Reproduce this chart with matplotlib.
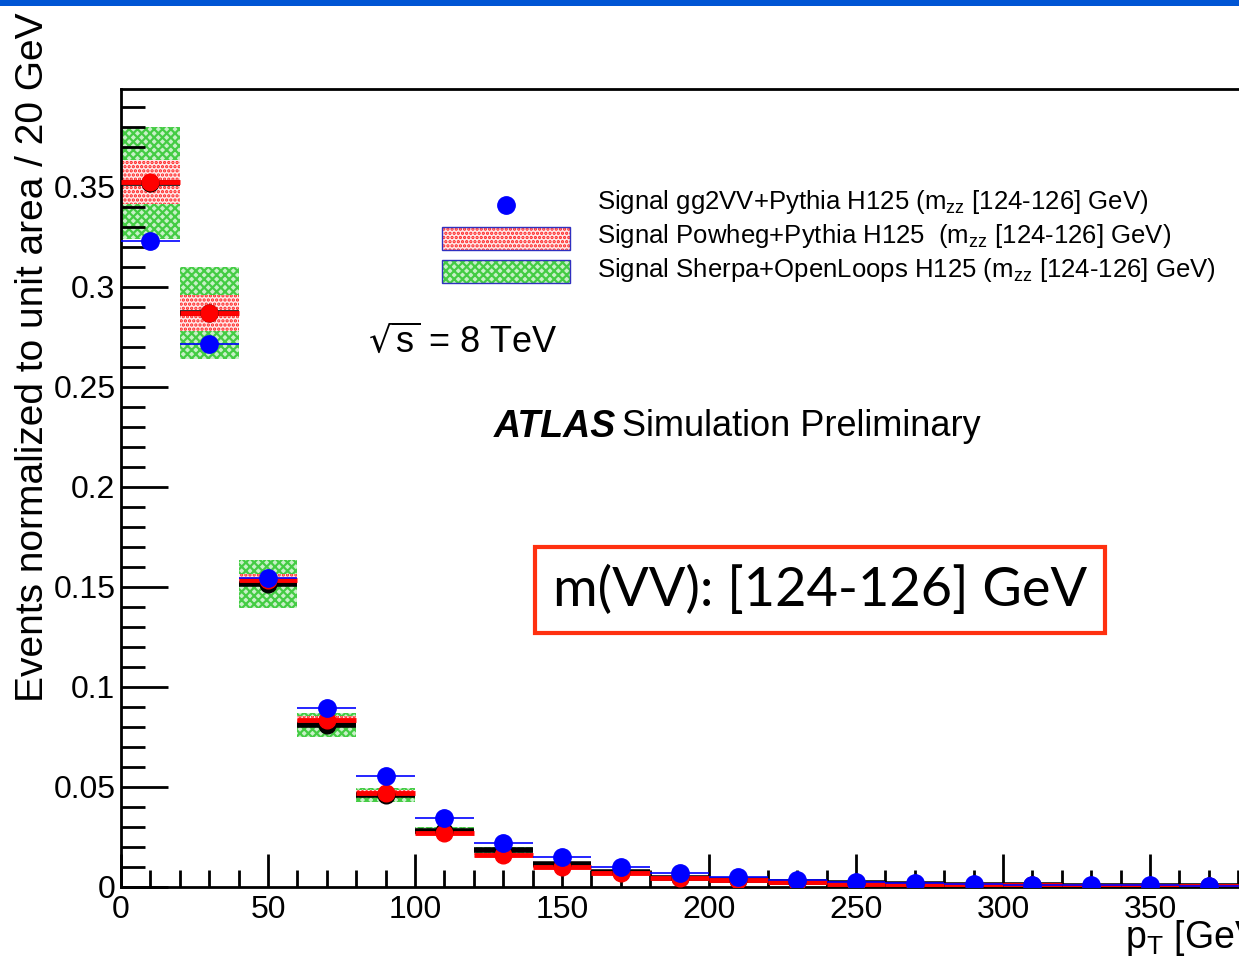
import numpy as np
import matplotlib.pyplot as plt
from matplotlib.patches import Rectangle
from matplotlib import font_manager

plt.rcParams['font.family'] = ['Liberation Sans', 'DejaVu Sans']
plt.rcParams['hatch.linewidth'] = 1.6

# pT bins of 20 GeV
edges = np.arange(0, 420, 20)
centers = (edges[:-1] + edges[1:]) / 2

# gg2VV + Pythia (blue points)
gg2vv = [0.323, 0.2715, 0.1545, 0.0895, 0.0555, 0.0345, 0.022, 0.015, 0.010, 0.007,
         0.005, 0.0035, 0.0025, 0.002, 0.0015, 0.0012, 0.001, 0.0008, 0.0006, 0.0005]

# Powheg + Pythia (red points, dotted band)
powheg = [0.3525, 0.287, 0.1535, 0.0835, 0.047, 0.027, 0.016, 0.010, 0.007, 0.0045,
          0.0035, 0.0025, 0.0017, 0.0012, 0.0010, 0.0008, 0.0006, 0.0005, 0.0004, 0.0003]
powheg_err = [0.011, 0.009, 0.003, 0.002, 0.0015, 0.001, 0.0008, 0.0006, 0.0005, 0.0004,
              0.0003, 0.0003, 0.0002, 0.0002, 0.0002, 0.0001, 0.0001, 0.0001, 0.0001, 0.0001]

# Sherpa + OpenLoops (black points, green band)
sherpa = [0.352, 0.287, 0.1515, 0.081, 0.046, 0.028, 0.0185, 0.0115, 0.0075, 0.0045,
          0.0035, 0.0025, 0.0018, 0.0013, 0.0010, 0.0008, 0.0006, 0.0005, 0.0004, 0.0003]
sherpa_err = [0.028, 0.023, 0.0118, 0.006, 0.0035, 0.002, 0.0015, 0.001, 0.0008, 0.0006,
              0.0005, 0.0004, 0.0003, 0.0003, 0.0002, 0.0002, 0.0002, 0.0001, 0.0001, 0.0001]

W, H = 1239, 964
fig = plt.figure(figsize=(W / 100, H / 100), dpi=100)
ax = fig.add_axes([121 / W, 1 - 887 / H, (1297 - 121) / W, (887 - 89) / H])

widths = np.diff(edges)
sherpa = np.array(sherpa); sherpa_err = np.array(sherpa_err)
powheg = np.array(powheg); powheg_err = np.array(powheg_err)

# uncertainty bands
ax.bar(centers, 2 * sherpa_err, bottom=sherpa - sherpa_err, width=widths,
       facecolor='#c8f0c8', edgecolor='#44cc44', hatch='xxxx', linewidth=0, zorder=1)
ax.bar(centers, 2 * powheg_err, bottom=powheg - powheg_err, width=widths,
       facecolor='#ffe8e8', edgecolor='#ff2020', hatch='....', linewidth=0, zorder=2)

# horizontal bin lines
ax.hlines(sherpa, edges[:-1], edges[1:], color='black', lw=4, zorder=3)
ax.hlines(powheg, edges[:-1], edges[1:], color='red', lw=3.5, zorder=4)
ax.hlines(gg2vv, edges[:-1], edges[1:], color='blue', lw=1.2, zorder=5)

# markers
ax.plot(centers, sherpa, 'o', color='black', ms=12, zorder=6)
ax.plot(centers, powheg, 'o', color='red', ms=12, zorder=7)
ax.plot(centers, gg2vv, 'o', color='blue', ms=12.5, zorder=8)

ax.set_xlim(0, 400)
ax.set_ylim(0, 0.399)
ax.set_xticks(np.arange(0, 401, 50))
ax.set_xticks(np.arange(0, 401, 10), minor=True)
ax.set_yticks(np.arange(0, 0.36, 0.05))
ax.set_yticks(np.arange(0, 0.40, 0.01), minor=True)
ax.set_yticklabels(['0', '0.05', '0.1', '0.15', '0.2', '0.25', '0.3', '0.35'])
ax.tick_params(axis='both', which='both', direction='in', labelsize=23, width=2)
ax.tick_params(axis='y', which='major', length=34, pad=4)
ax.tick_params(axis='y', which='minor', length=17)
ax.tick_params(axis='x', which='major', length=24, pad=6)
ax.tick_params(axis='x', which='minor', length=12)
for s in ax.spines.values():
    s.set_linewidth(2)

# x title sits at the right end of the axis
fig.text(1125 / W, 1 - 958 / H, 'p$_\\mathregular{T}$ [GeV]', fontsize=27,
         ha='left', va='bottom')

# condensed face for the y title if there is one
names = {f.name for f in font_manager.fontManager.ttflist}
if 'Liberation Sans Narrow' in names:
    ytitle_font, ytitle_size = 'Liberation Sans Narrow', 34
else:
    ytitle_font, ytitle_size = 'Liberation Sans', 28
fig.text(33 / W, 1 - 702 / H, 'Events normalized to unit area / 20 GeV',
         rotation=90, ha='center', va='bottom', fontsize=ytitle_size, family=ytitle_font)

# legend drawn by hand
fig.add_artist(plt.Line2D([506 / W], [1 - 205 / H], marker='o', color='blue', ms=12.5,
                          transform=fig.transFigure))
fig.add_artist(Rectangle((442 / W, 1 - 250 / H), 128 / W, 23 / H, transform=fig.transFigure,
                         facecolor='#ffe8e8', edgecolor='#ff2020', hatch='....', lw=0))
fig.add_artist(Rectangle((442 / W, 1 - 250 / H), 128 / W, 23 / H, transform=fig.transFigure,
                         facecolor='none', edgecolor='#3030c0', lw=1))
fig.add_artist(Rectangle((442 / W, 1 - 283 / H), 128 / W, 23 / H, transform=fig.transFigure,
                         facecolor='#c8f0c8', edgecolor='#44cc44', hatch='xxxx', lw=0))
fig.add_artist(Rectangle((442 / W, 1 - 283 / H), 128 / W, 23 / H, transform=fig.transFigure,
                         facecolor='none', edgecolor='#3030c0', lw=1))
leg_labels = ['Signal gg2VV+Pythia H125 (m$_{\\mathregular{zz}}$ [124-126] GeV)',
              'Signal Powheg+Pythia H125  (m$_{\\mathregular{zz}}$ [124-126] GeV)',
              'Signal Sherpa+OpenLoops H125 (m$_{\\mathregular{zz}}$ [124-126] GeV)']
for i, lab in enumerate(leg_labels):
    fig.text(597 / W, 1 - (202 + 34 * i) / H, lab, fontsize=18.5, va='center', ha='left')

fig.text(368 / W, 1 - 342 / H, '$\\sqrt{\\mathregular{s}}$ = 8 TeV', fontsize=26,
         va='center', ha='left')
fig.text(494 / W, 1 - 427 / H, 'ATLAS', fontsize=27, fontweight='bold', fontstyle='italic',
         va='center', ha='left')
fig.text(622 / W, 1 - 427 / H, 'Simulation Preliminary', fontsize=26, va='center', ha='left')

fig.text(820 / W, 1 - 590 / H, 'm(VV): [124-126] GeV', fontsize=39, family='Lato',
         va='center', ha='center',
         bbox=dict(boxstyle='square,pad=0.33', facecolor='white', edgecolor='#ff3010', lw=3))

# blue strip across the top
fig.add_artist(Rectangle((0, 1 - 6 / H), 1, 6 / H, transform=fig.transFigure,
                         facecolor='#0055d4', edgecolor='none'))

fig.savefig('out.png', dpi=100)
